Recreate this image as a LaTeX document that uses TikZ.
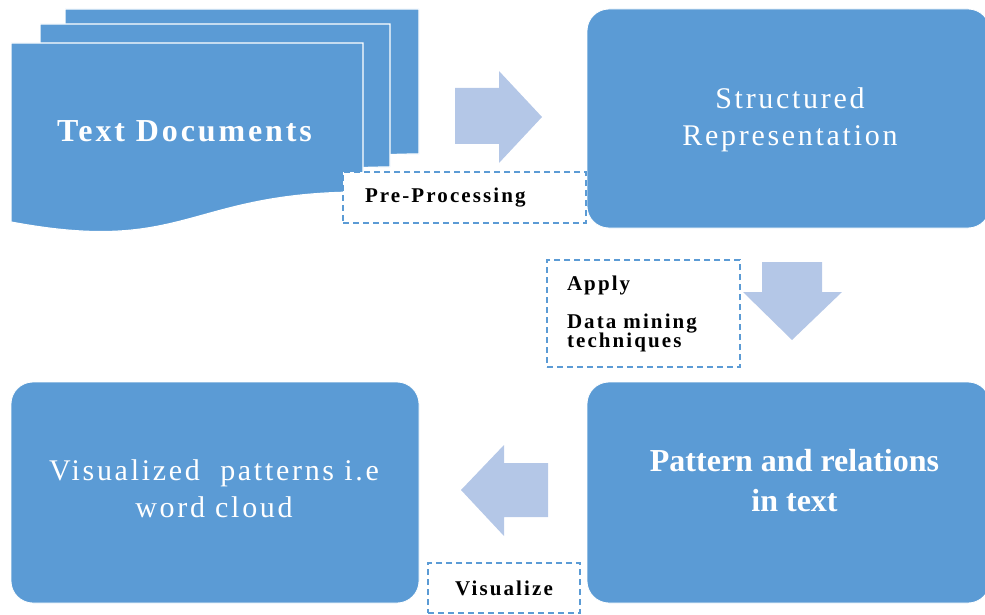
\documentclass[tikz,border=0pt]{standalone}
\usepackage{fontspec}
\setmainfont{Liberation Serif}
\newfontfamily\wideserif[LetterSpace=9]{Liberation Serif}
\newfontfamily\labelserif[LetterSpace=10]{Liberation Serif}
\definecolor{boxblue}{RGB}{91,155,213}
\definecolor{arrowblue}{RGB}{180,199,231}

\begin{document}
\begin{tikzpicture}[x=1pt,y=-1pt,
  stage/.style={fill=boxblue, draw=white, line width=0.8pt, rounded corners=22pt, inner sep=0pt},
  sheet/.style={fill=boxblue, draw=white, line width=1.2pt},
  flowarrow/.style={fill=arrowblue, draw=none},
  plaintext/.style={text=white, inner sep=0pt, align=center, font=\wideserif\fontsize{30}{37}\selectfont},
  heavytext/.style={text=white, inner sep=0pt, align=center, font=\bfseries\fontsize{32}{40}\selectfont},
  note/.style={draw=boxblue, fill=white, line width=1.5pt, dash pattern=on 6pt off 4pt,
    font=\labelserif\bfseries\fontsize{21}{20}\selectfont, text=black, inner ysep=0pt}
]
\useasboundingbox (0,0) rectangle (985,615);
\clip (0,0) rectangle (985,615);

% stacked document sheets: left x, top y, width, bottom-right y
\foreach \sx/\st/\sw/\sb in {65/9/354/154, 40/24/350/167, 11/43/352/192}{
  \draw[sheet] (\sx,\st) -- (\sx+\sw,\st) -- (\sx+\sw,\sb)
    .. controls (\sx+\sw/2,\sb) and (\sx+\sw/2,\sb+63) .. (\sx,\sb+30) -- cycle;
}
\node[heavytext, font=\wideserif\bfseries\fontsize{32}{40}\selectfont, anchor=base] (docs) at (184.5,142) {Text Documents};

% process stages
\node[stage, minimum width=403pt, minimum height=219pt] (struct) at (788.5,118.5) {};
\node[plaintext] (structtext) at (790,119.5) {Structured\\Representation};

\node[stage, minimum width=403pt, minimum height=221pt] (pattern) at (788.5,492.5) {};
\node[heavytext] (patterntext) at (794.5,481) {Pattern and relations\\in text};

\node[stage, minimum width=408pt, minimum height=221pt] (visual) at (215,492.5) {};
\node[plaintext] (visualtext) at (214,488.3) {Visualized\ \ patterns i.e\\word cloud};

% block arrows between stages
\draw[flowarrow] (455,88) -- (499,88) -- (499,71) -- (542,117) -- (499,163) -- (499,144) -- (455,144) -- cycle;
\draw[flowarrow] (762,262) -- (822,262) -- (822,292) -- (842,292) -- (792,340) -- (743,292) -- (762,292) -- cycle;
\draw[flowarrow] (548,463) -- (504,463) -- (504,445) -- (461,490) -- (504,536) -- (504,517) -- (548,517) -- cycle;

% step labels
\node[note, minimum height=51pt, text width=199pt, inner xsep=22pt, align=left] (pre) at (464.5,197.5) {Pre-Processing};
\node[note, minimum height=107pt, text width=153pt, inner xsep=20pt, align=left] (apply) at (643.5,313.5) {Apply\\[18pt]Data mining\\[-1pt]techniques\\[6pt]};
\node[note, minimum width=152pt, minimum height=50pt] (vis) at (504,588) {Visualize};
\end{tikzpicture}
\end{document}
